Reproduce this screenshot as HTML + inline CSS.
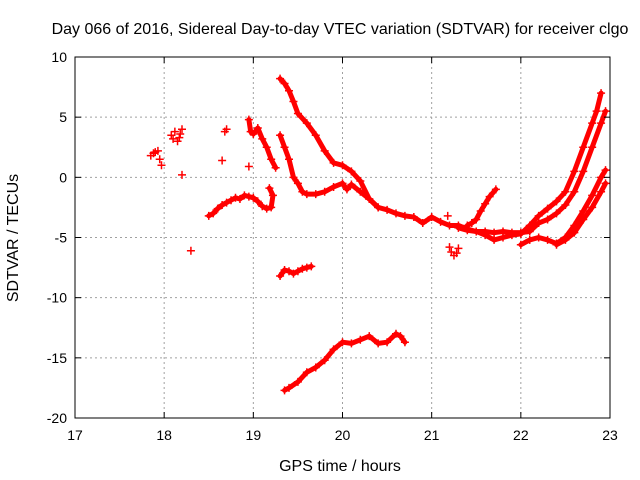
<!DOCTYPE html>
<html><head><meta charset="utf-8"><style>
body{margin:0;background:#fff;}
svg{display:block;font-family:"Liberation Sans",sans-serif;}
</style></head><body>
<svg id="chart" width="640" height="480" xmlns="http://www.w3.org/2000/svg">
<rect width="640" height="480" fill="#fff"/>
<text x="340" y="34" font-size="16" text-anchor="middle">Day 066 of 2016, Sidereal Day-to-day VTEC variation (SDTVAR) for receiver clgo</text>
<g id="grid"></g>
<g id="marks"></g>
<rect x="75" y="57" width="535" height="361" fill="none" stroke="#000" stroke-width="1"/>
<g id="ticks"></g>
<text x="340" y="471" font-size="16" text-anchor="middle">GPS time / hours</text>
<text transform="translate(18,238) rotate(-90)" font-size="16" text-anchor="middle">SDTVAR / TECUs</text>
</svg>
<script>
const xTicks=[17,18,19,20,21,22,23];
const yTicks=[10,5,0,-5,-10,-15,-20];
const trackA_x=[17.85,17.88,17.9,17.93,17.95,17.97];
const trackA_y=[1.8,2.0,2.1,2.2,1.5,1.0];
const clusterB_x=[18.08,18.1,18.12,18.15,18.17,18.18,18.2,18.2,18.3,18.65,18.68,18.7,18.95];
const clusterB_y=[3.5,3.2,3.8,3.0,3.3,3.6,4.0,0.2,-6.1,1.4,3.8,4.0,0.9];
const trackC_x=[18.5,18.55,18.6,18.65,18.7,18.75,18.8,18.85,18.9,18.95,19.0,19.05,19.1,19.15,19.2,19.22,19.18];
const trackC_y=[-3.2,-3.0,-2.6,-2.3,-2.1,-1.9,-1.7,-1.8,-1.5,-1.6,-1.7,-2.0,-2.4,-2.6,-2.5,-1.5,-0.9];
const trackD_x=[18.95,18.97,19.0,19.05,19.1,19.15,19.2,19.25];
const trackD_y=[4.8,3.8,3.6,4.1,3.2,2.5,1.5,0.8];
const trackE_x=[19.3,19.35,19.4,19.45,19.5,19.55,19.6,19.7,19.8,19.9,20.0,20.05,20.1,20.2,20.3,20.4];
const trackE_y=[3.5,2.5,1.5,0.0,-0.5,-1.2,-1.4,-1.4,-1.2,-0.8,-0.5,-1.0,-0.6,-1.2,-1.8,-2.5];
const trackF_x=[19.3,19.35,19.4,19.45,19.5,19.6,19.7,19.8,19.9,20.0,20.1,20.2,20.3,20.4,20.5,20.6,20.7,20.8,20.9,21.0,21.1,21.2,21.3,21.4,21.5,21.6,21.7,21.8,21.9,22.0,22.1,22.2,22.3,22.4,22.5,22.6,22.7,22.8,22.85,22.9];
const trackF_y=[8.2,7.8,7.2,6.3,5.3,4.5,3.5,2.2,1.2,1.0,0.5,-0.3,-1.8,-2.5,-2.7,-3.0,-3.2,-3.3,-3.8,-3.3,-3.7,-4.0,-4.0,-4.3,-4.5,-4.8,-5.2,-5.0,-4.8,-4.7,-4.0,-3.2,-2.6,-2.0,-1.2,0.5,2.5,4.5,5.5,7.0];
const trackG_x=[21.3,21.4,21.5,21.6,21.7,21.8,21.9,22.0,22.1,22.2,22.3,22.4,22.5,22.6,22.7,22.8,22.9,22.95];
const trackG_y=[-4.2,-4.4,-4.5,-4.5,-4.6,-4.5,-4.6,-4.6,-4.5,-3.8,-3.5,-3.0,-2.3,-1.2,0.5,2.5,4.5,5.5];
const branchH_x=[21.4,21.45,21.5,21.55,21.6,21.65,21.72];
const branchH_y=[-4.0,-3.8,-3.5,-2.8,-2.2,-1.6,-1.0];
const trackI_x=[22.0,22.1,22.2,22.3,22.4,22.5,22.6,22.7,22.8,22.9,22.95];
const trackI_y=[-5.6,-5.2,-5.0,-5.2,-5.5,-5.0,-4.0,-2.8,-1.5,0.0,0.6];
const trackJ_x=[22.4,22.5,22.6,22.7,22.8,22.9,22.95];
const trackJ_y=[-5.6,-5.2,-4.6,-3.5,-2.5,-1.2,-0.5];
const clusterK_x=[21.2,21.22,21.25,21.28,21.3,21.18];
const clusterK_y=[-5.8,-6.2,-6.5,-6.3,-5.9,-3.2];
const trackL_x=[19.3,19.35,19.4,19.45,19.5,19.55,19.6,19.65];
const trackL_y=[-8.2,-7.7,-7.8,-8.0,-7.8,-7.6,-7.5,-7.4];
const trackM_x=[19.35,19.4,19.5,19.6,19.7,19.8,19.9,20.0,20.1,20.2,20.3,20.4,20.5,20.6,20.65,20.7];
const trackM_y=[-17.7,-17.5,-17.0,-16.2,-15.8,-15.2,-14.3,-13.7,-13.8,-13.5,-13.2,-13.8,-13.7,-13.0,-13.2,-13.7];

const X0=75,X1=610,Y0=418,Y1=57;
const xs=h=>X0+(h-17)/6*(X1-X0);
const ys=v=>Y0-(v+20)/30*(Y0-Y1);
const NS="http://www.w3.org/2000/svg";
function mk(tag,attrs,parent){const e=document.createElementNS(NS,tag);for(const k in attrs)e.setAttribute(k,attrs[k]);parent.appendChild(e);return e;}
const grid=document.getElementById('grid'),ticks=document.getElementById('ticks'),marks=document.getElementById('marks');
xTicks.forEach(t=>{const x=xs(t);
 if(t>17&&t<23){const g=mk('line',{x1:x,x2:x,y1:Y1,y2:Y0,stroke:'#a0a0a0','stroke-dasharray':'2,3'},grid);
 
 }
 const l=mk('line',{x1:x,x2:x,y1:Y0,y2:Y0-6,stroke:'#000'},ticks);
 
 
 const l2=mk('line',{x1:x,x2:x,y1:Y1,y2:Y1+6,stroke:'#000'},ticks);
 
 
 const tx=mk('text',{x:x,y:Y0+22,'font-size':14,'text-anchor':'middle'},ticks);tx.textContent=t;
 
 });
yTicks.forEach(t=>{const y=ys(t);
 if(t>-20&&t<10){const g=mk('line',{x1:X0,x2:X1,y1:y,y2:y,stroke:'#a0a0a0','stroke-dasharray':'2,3'},grid);
 
 }
 const l=mk('line',{x1:X0,x2:X0+6,y1:y,y2:y,stroke:'#000'},ticks);
 
 
 const l2=mk('line',{x1:X1,x2:X1-6,y1:y,y2:y,stroke:'#000'},ticks);
 
 
 const tx=mk('text',{x:X0-8,y:y+5,'font-size':14,'text-anchor':'end'},ticks);tx.textContent=t;
 
 });
const tracks=[[trackA_x,trackA_y,0],[clusterB_x,clusterB_y,0],[trackC_x,trackC_y,1],[trackD_x,trackD_y,1],[trackE_x,trackE_y,1],[trackF_x,trackF_y,1],[trackG_x,trackG_y,1],[branchH_x,branchH_y,1],[trackI_x,trackI_y,1],[trackJ_x,trackJ_y,1],[clusterK_x,clusterK_y,0],[trackL_x,trackL_y,1],[trackM_x,trackM_y,1]];
tracks.forEach(([hx,vy,conn])=>{
 if(conn){const p=mk('polyline',{points:hx.map((h,i)=>xs(h)+','+ys(vy[i])).join(' '),fill:'none',stroke:'#f00','stroke-width':5,'stroke-linejoin':'round','stroke-linecap':'round'},marks);
 
 }
 hx.forEach((h,i)=>{const x=xs(h),y=ys(vy[i]);
  const m=mk('path',{d:`M${x-4},${y}H${x+4}M${x},${y-4}V${y+4}`,stroke:'#f00','stroke-width':1.5},marks);
  
  });
});
</script>
</body></html>
